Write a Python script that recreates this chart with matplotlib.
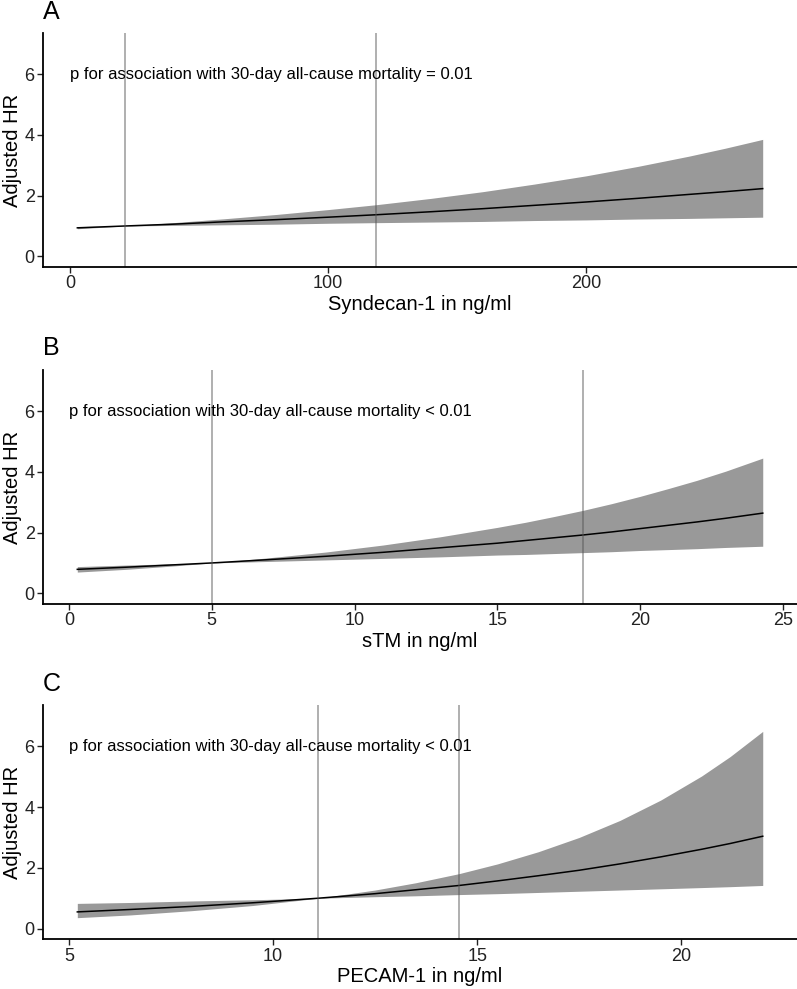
import matplotlib
matplotlib.use("Agg")
import matplotlib.pyplot as plt

plt.rcParams['font.family'] = ['Liberation Sans', 'DejaVu Sans']

# Panel A: Syndecan-1
syn_x = [2.8, 21.1, 40, 60, 80, 100, 118.6, 140, 160, 180, 200, 220, 240, 254, 268.5]
syn_hr = [0.94, 1.00, 1.06, 1.14, 1.21, 1.29, 1.37, 1.47, 1.57, 1.68, 1.79, 1.91, 2.04, 2.13, 2.23]
syn_hi = [0.98, 1.00, 1.11, 1.24, 1.38, 1.54, 1.70, 1.91, 2.13, 2.38, 2.65, 2.96, 3.30, 3.56, 3.85]
syn_lo = [0.91, 1.00, 1.02, 1.04, 1.06, 1.09, 1.11, 1.13, 1.15, 1.18, 1.20, 1.23, 1.25, 1.27, 1.29]
syn_vlines = [21.1, 118.6]

# Panel B: sTM
stm_x = [0.29, 2, 3.5, 5, 7, 9, 11, 13, 15, 16, 17, 18, 19, 20, 21, 22, 23, 24.3]
stm_hr = [0.79, 0.86, 0.93, 1.00, 1.11, 1.22, 1.35, 1.50, 1.65, 1.74, 1.83, 1.92, 2.02, 2.13, 2.24, 2.35, 2.47, 2.64]
stm_hi = [0.88, 0.93, 0.97, 1.00, 1.17, 1.36, 1.59, 1.86, 2.17, 2.34, 2.53, 2.73, 2.95, 3.19, 3.45, 3.72, 4.02, 4.45]
stm_lo = [0.70, 0.79, 0.89, 1.00, 1.05, 1.10, 1.15, 1.20, 1.26, 1.28, 1.31, 1.34, 1.37, 1.41, 1.44, 1.47, 1.51, 1.55]
stm_vlines = [5.0, 18.0]

# Panel C: PECAM-1
pec_x = [5.2, 6.5, 8, 9.5, 11.1, 12.5, 13.5, 14.56, 15.5, 16.5, 17.5, 18.5, 19.5, 20.5, 21.2, 22.0]
pec_hr = [0.55, 0.63, 0.73, 0.85, 1.00, 1.15, 1.28, 1.42, 1.57, 1.74, 1.92, 2.13, 2.36, 2.61, 2.80, 3.04]
pec_hi = [0.83, 0.86, 0.91, 0.95, 1.00, 1.27, 1.51, 1.81, 2.13, 2.53, 3.00, 3.56, 4.23, 5.02, 5.66, 6.49]
pec_lo = [0.36, 0.45, 0.59, 0.76, 1.00, 1.05, 1.08, 1.12, 1.15, 1.19, 1.23, 1.27, 1.31, 1.35, 1.38, 1.42]
pec_vlines = [11.1, 14.56]

panels = [
    ("A", syn_x, syn_hr, syn_lo, syn_hi, syn_vlines, "Syndecan-1 in ng/ml",
     "p for association with 30-day all-cause mortality = 0.01", 0, [0, 100, 200], (-10.5, 281.8)),
    ("B", stm_x, stm_hr, stm_lo, stm_hi, stm_vlines, "sTM in ng/ml",
     "p for association with 30-day all-cause mortality < 0.01", 0, [0, 5, 10, 15, 20, 25], (-0.91, 25.5)),
    ("C", pec_x, pec_hr, pec_lo, pec_hi, pec_vlines, "PECAM-1 in ng/ml",
     "p for association with 30-day all-cause mortality < 0.01", 5, [5, 10, 15, 20], (4.36, 22.84)),
]

fig = plt.figure(figsize=(7.97, 9.89), dpi=100)
bottoms = [0.730, 0.3893, 0.0503]
H = 0.2366

for (letter, x, hr, lo, hi, vl, xlabel, ptext, tx, xticks, xlim), b in zip(panels, bottoms):
    ax = fig.add_axes([0.054, b, 0.946, H])
    ax.fill_between(x, lo, hi, color='#999999', linewidth=0)
    ax.plot(x, hr, color='black', lw=1.1)
    for v in vl:
        ax.axvline(v, color='#555555', alpha=0.55, lw=1.2)
    ax.text(tx, 6, ptext, ha='left', va='center', fontsize=12)
    ax.set_xlim(*xlim)
    ax.set_ylim(-0.35, 7.35)
    ax.set_xticks(xticks)
    ax.set_yticks([0, 2, 4, 6])
    ax.set_xlabel(xlabel, fontsize=14.5, labelpad=2)
    ax.set_ylabel("Adjusted HR", fontsize=14.5, labelpad=2)
    for s in ['top', 'right']:
        ax.spines[s].set_visible(False)
    for s in ['left', 'bottom']:
        ax.spines[s].set_linewidth(1.3)
    ax.tick_params(length=4, width=1.0, labelsize=13, colors='#222222', pad=2)
    ax.text(0.0, 1.062, letter, transform=ax.transAxes, fontsize=18, ha='left', va='baseline')

fig.savefig("out.png", dpi=100)
